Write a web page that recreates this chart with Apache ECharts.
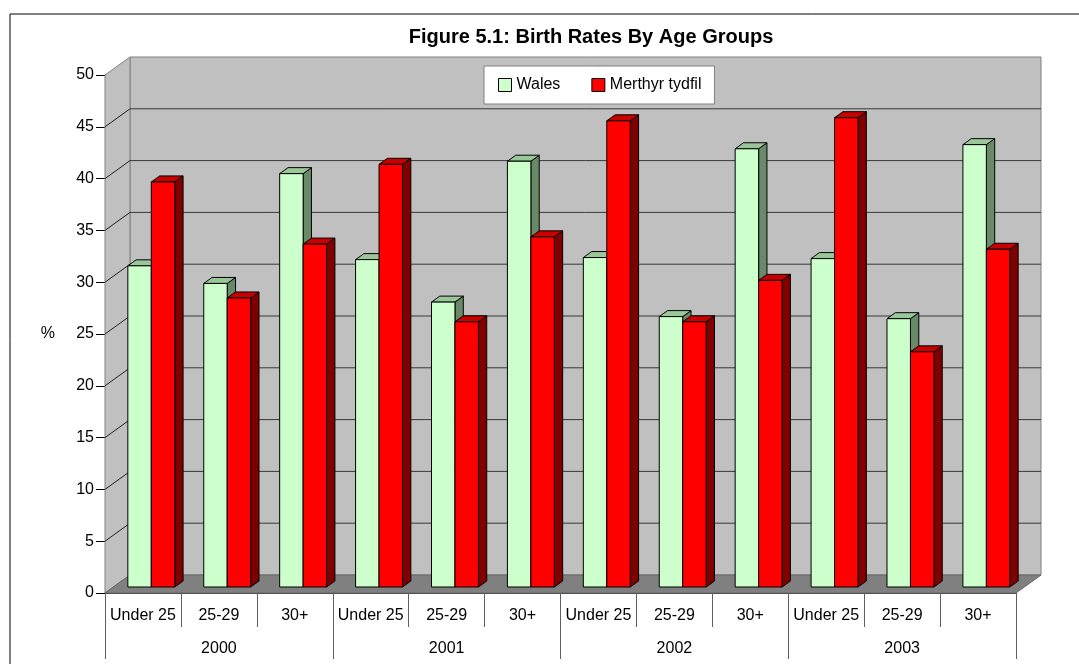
<!DOCTYPE html>
<html>
<head>
<meta charset="utf-8">
<script src="https://cdn.jsdelivr.net/npm/echarts@6/dist/echarts.min.js"></script>
<style>
html,body{margin:0;padding:0;background:#fff;}
#chart{width:1079px;height:664px;}
</style>
</head>
<body>
<div id="chart"></div>
<script>
// ---- data ----
const categories = ['Under 25','25-29','30+','Under 25','25-29','30+','Under 25','25-29','30+','Under 25','25-29','30+'];
const years = ['2000','2001','2002','2003'];
const wales   = [31.0, 29.3, 39.9, 31.6, 27.5, 41.1, 31.8, 26.1, 42.3, 31.7, 25.9, 42.7];
const merthyr = [39.1, 27.9, 33.1, 40.8, 25.6, 33.8, 45.0, 25.6, 29.6, 45.3, 22.7, 32.6];
const yMin = 0, yMax = 50, yStep = 5;

// ---- style constants ----
const FONT = 'Liberation Sans, Arial, sans-serif';
const DX = 25, DY = -18;          // 3D depth offset
const FRONT = 1/3, BACK = 2/3;    // bar depth range
const BAR_FRAC = 0.309;           // bar width / band width
const COLORS = {
  wales:   {front:'#CCFFCC', top:'#99C799', side:'#688A68'},
  merthyr: {front:'#FF0000', top:'#C80000', side:'#800000'}
};

const yTicks = [];
for (let v = yMin; v <= yMax; v += yStep) yTicks.push(v);

function backdropRender(params, api) {
  const band = api.size([1, 0])[0];
  const n = categories.length;
  const xl = api.coord([0, yMin])[0] - band / 2;
  const xr = api.coord([n - 1, yMin])[0] + band / 2;
  const y0 = api.coord([0, yMin])[1];
  const yT = api.coord([0, yMax])[1];
  const children = [];
  // back wall
  children.push({type:'rect', shape:{x:xl+DX, y:yT+DY, width:xr-xl, height:y0-yT},
    style:{fill:'#C0C0C0', stroke:'#808080', lineWidth:1}});
  // side wall
  children.push({type:'polygon', shape:{points:[[xl,yT],[xl+DX,yT+DY],[xl+DX,y0+DY],[xl,y0]]},
    style:{fill:'#C0C0C0', stroke:'#808080', lineWidth:1}});
  // gridlines
  yTicks.forEach(v => {
    if (v === yMin || v === yMax) return;
    const y = api.coord([0, v])[1];
    children.push({type:'line', shape:{x1:xl+DX, y1:y+DY, x2:xr+DX, y2:y+DY},
      style:{stroke:'#383838', lineWidth:1}});
    children.push({type:'line', shape:{x1:xl, y1:y, x2:xl+DX, y2:y+DY},
      style:{stroke:'#202020', lineWidth:1}});
  });
  // floor
  children.push({type:'polygon', shape:{points:[[xl,y0],[xr,y0],[xr+DX,y0+DY],[xl+DX,y0+DY]]},
    style:{fill:'#808080', stroke:'#666666', lineWidth:1}});
  return {type:'group', children};
}

function barRender(which, col) {
  return function (params, api) {
    const i = api.value(0), v = api.value(1);
    const band = api.size([1, 0])[0];
    const w = band * BAR_FRAC;
    const top = api.coord([i, v]);
    const base = api.coord([i, 0]);
    const fx = DX * FRONT, fy = DY * FRONT;
    const ddx = DX * (BACK - FRONT), ddy = DY * (BACK - FRONT);
    const x0 = top[0] + (which === 0 ? -w : 0) + fx;
    const x1 = x0 + w;
    const yT = top[1] + fy, yB = base[1] + fy;
    const st = {stroke:'#000', lineWidth:1};
    return {type:'group', children:[
      {type:'polygon', shape:{points:[[x1,yT],[x1+ddx,yT+ddy],[x1+ddx,yB+ddy],[x1,yB]]},
        style:Object.assign({fill:col.side}, st)},
      {type:'polygon', shape:{points:[[x0,yT],[x1,yT],[x1+ddx,yT+ddy],[x0+ddx,yT+ddy]]},
        style:Object.assign({fill:col.top}, st)},
      {type:'rect', shape:{x:x0, y:yT, width:w, height:yB-yT},
        style:Object.assign({fill:col.front}, st)}
    ]};
  };
}

const chart = echarts.init(document.getElementById('chart'), null, {renderer:'canvas'});
chart.setOption({
  backgroundColor:'#fff',
  animation:false,
  title:{
    text:'Figure 5.1: Birth Rates By Age Groups',
    left:591, top:27, textAlign:'center', padding:0,
    textStyle:{fontFamily:FONT, fontSize:20, fontWeight:'bold', color:'#000'}
  },
  legend:{
    left:484, top:66,
    padding:[11,13,11,14],
    backgroundColor:'#fff', borderColor:'#808080', borderWidth:1,
    itemGap:31, itemWidth:13, itemHeight:13,
    textStyle:{fontFamily:FONT, fontSize:16, color:'#000'},
    data:[
      {name:'Wales', icon:'rect', itemStyle:{color:COLORS.wales.front, borderColor:'#000', borderWidth:1}},
      {name:'Merthyr tydfil', icon:'rect', itemStyle:{color:COLORS.merthyr.front, borderColor:'#000', borderWidth:1}}
    ]
  },
  graphic:[{type:'rect', shape:{x:10, y:14, width:2000, height:2000}, style:{fill:null, stroke:'#000', lineWidth:1}, z:-10}],
  grid:{left:105, top:75, width:911, height:518},
  xAxis:[
    {type:'category', data:categories, position:'bottom',
      axisLine:{show:true, lineStyle:{color:'#404040'}},
      axisTick:{show:true, interval:0, length:34, lineStyle:{color:'#606060'}},
      axisLabel:{interval:0, margin:15, fontFamily:FONT, fontSize:16, color:'#000'},
      splitLine:{show:false}},
    {type:'category', data:years, position:'bottom', offset:0,
      axisLine:{show:false},
      axisTick:{show:true, interval:0, length:66, lineStyle:{color:'#606060'}},
      axisLabel:{interval:0, margin:48, fontFamily:FONT, fontSize:16, color:'#000'},
      splitLine:{show:false}}
  ],
  yAxis:{
    type:'value', min:yMin, max:yMax, interval:yStep,
    name:'%', nameLocation:'middle', nameRotate:0, nameGap:50,
    nameTextStyle:{fontFamily:FONT, fontSize:16, color:'#000'},
    axisLine:{show:true, lineStyle:{color:'#000'}},
    axisTick:{show:true, length:9, lineStyle:{color:'#000'}},
    axisLabel:{margin:11, fontFamily:FONT, fontSize:16, color:'#000'},
    splitLine:{show:false}
  },
  series:[
    {type:'custom', name:'backdrop', renderItem:backdropRender, data:[[0,0]], z:1, silent:true,
      encode:{x:0, y:1}},
    {type:'custom', name:'Wales', renderItem:barRender(0, COLORS.wales), z:2,
      itemStyle:{color:COLORS.wales.front},
      data:wales.map((v,i)=>[i,v]), encode:{x:0, y:1}},
    {type:'custom', name:'Merthyr tydfil', renderItem:barRender(1, COLORS.merthyr), z:3,
      itemStyle:{color:COLORS.merthyr.front},
      data:merthyr.map((v,i)=>[i,v]), encode:{x:0, y:1}}
  ]
});
</script>
</body>
</html>
